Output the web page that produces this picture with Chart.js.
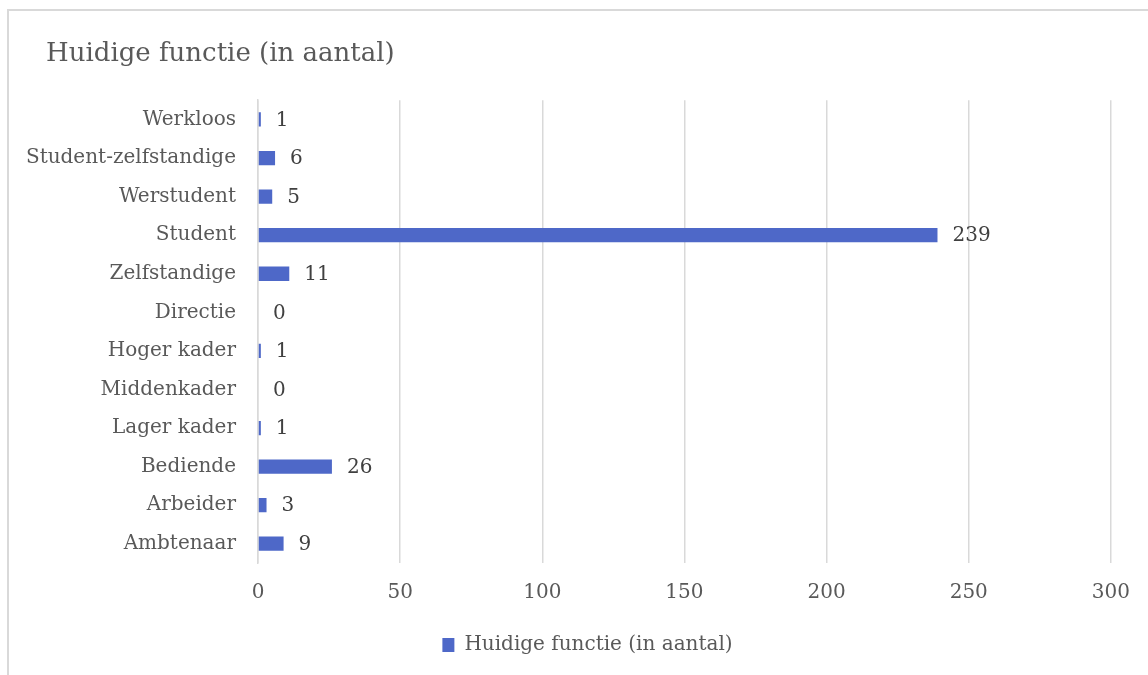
<!DOCTYPE html>
<html>
<head>
<meta charset="utf-8">
<script src="https://cdn.jsdelivr.net/npm/chart.js@4/dist/chart.umd.min.js"></script>
<style>
  html, body { margin: 0; padding: 0; background: #fff; }
  #wrap { position: relative; width: 1148px; height: 675px; overflow: hidden; }
  #frame { position: absolute; left: 7px; top: 9px; width: 1200px; height: 700px;
           border-left: 2px solid #d9d9d9; border-top: 2px solid #d9d9d9; box-sizing: border-box; }
  #c { position: absolute; left: 0; top: 0; }
</style>
</head>
<body>
<div id="wrap">
  <div id="frame"></div>
  <canvas id="c" width="1148" height="675"></canvas>
</div>
<script>
const categories = ['Werkloos', 'Student-zelfstandige', 'Werstudent', 'Student', 'Zelfstandige',
    'Directie', 'Hoger kader', 'Middenkader', 'Lager kader', 'Bediende', 'Arbeider', 'Ambtenaar']
const counts = [1, 6, 5, 239, 11, 0, 1, 0, 1, 26, 3, 9]
const seriesName = 'Huidige functie (in aantal)'
const xTicks = [0, 50, 100, 150, 200, 250, 300]

const serif = '"DejaVu Serif", serif'

// simple value labels next to the bar ends
const valueLabels = {
    id: 'valueLabels',
    afterLayout(chart) {
        // push title and legend a bit, like the original
        if (chart.titleBlock) chart.titleBlock.left += 26
        if (chart.legend) {
            chart.legend.left += 22
            chart.legend.right += 22
        }
    },
    afterDatasetsDraw(chart) {
        const ctx = chart.ctx
        const meta = chart.getDatasetMeta(0)
        ctx.save()
        ctx.font = '20px ' + serif
        ctx.fillStyle = '#404040'
        ctx.textAlign = 'left'
        ctx.textBaseline = 'middle'
        meta.data.forEach((bar, i) => {
            ctx.fillText(String(counts[i]), bar.x + 15, bar.y + 1)
        })
        ctx.restore()
    }
}

const ctx = document.getElementById('c').getContext('2d')
new Chart(ctx, {
    type: 'bar',
    data: {
        labels: categories,
        datasets: [{
            label: seriesName,
            data: counts,
            backgroundColor: '#4e68c8',
            barPercentage: 0.37,
            categoryPercentage: 1
        }]
    },
    options: {
        indexAxis: 'y',
        responsive: false,
        animation: false,
        layout: { padding: { left: 20, right: 37, top: 0, bottom: 10 } },
        scales: {
            x: {
                min: 0,
                max: 300,
                afterBuildTicks: (axis) => { axis.ticks = xTicks.map(v => ({ value: v })) },
                grid: { color: '#d9d9d9', drawTicks: false, lineWidth: 1.5 },
                border: { display: false },
                ticks: { color: '#595959', font: { family: serif, size: 20 }, padding: 18 }
            },
            y: {
                grid: { display: false },
                border: { display: true, color: '#d9d9d9', width: 1.5 },
                ticks: { color: '#595959', font: { family: serif, size: 20 }, padding: 14 },
                afterFit: (axis) => { axis.width = 238 }
            }
        },
        plugins: {
            title: {
                display: true,
                text: 'Huidige functie (in aantal)',
                align: 'start',
                color: '#595959',
                font: { family: serif, size: 26, weight: 'normal' },
                padding: { top: 39, bottom: 30 }
            },
            legend: {
                position: 'bottom',
                labels: {
                    color: '#595959',
                    font: { family: serif, size: 20 },
                    boxWidth: 12,
                    boxHeight: 14,
                    padding: 12
                }
            },
            tooltip: { enabled: false }
        }
    },
    plugins: [valueLabels]
})
</script>
</body>
</html>
